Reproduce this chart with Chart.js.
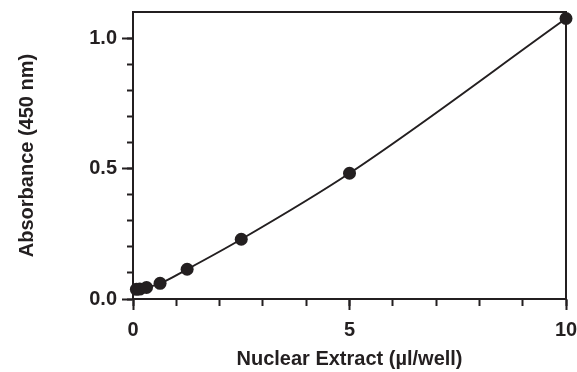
<!DOCTYPE html>
<html>
<head>
<meta charset="utf-8">
<script src="https://cdn.jsdelivr.net/npm/chart.js@4.4.1/dist/chart.umd.min.js"></script>
<style>
  html, body { margin: 0; padding: 0; background: #ffffff; }
  #wrap { width: 577px; height: 372px; position: relative; }
</style>
</head>
<body>
<div id="wrap"><canvas id="c" width="577" height="372"></canvas></div>
<script>
// ---- Data ----
const extractVolumes = [0.078, 0.156, 0.3125, 0.625, 1.25, 2.5, 5, 10];   // µl/well
const absorbance     = [0.037, 0.038, 0.044, 0.060, 0.114, 0.229, 0.482, 1.075];

const xMajorTicks = [0, 5, 10];
const xMinorTicks = [0, 1, 2, 3, 4, 5, 6, 7, 8, 9, 10];
const yMajorTicks = [0, 0.5, 1.0];
const yMinorTicks = [0, 0.1, 0.2, 0.3, 0.4, 0.5, 0.6, 0.7, 0.8, 0.9, 1.0];
const xTickLabels = ['0', '5', '10'];
const yTickLabels = ['0.0', '0.5', '1.0'];

const xTitle = 'Nuclear Extract (µl/well)';
const yTitle = 'Absorbance (450 nm)';

const INK = '#231f20';
const FONT = "'Liberation Sans', Arial, Helvetica, sans-serif";

const X_MIN = 0, X_MAX = 10, Y_MIN = 0, Y_MAX = 1.1;

function setTicks(list) {
  return function (scale) { scale.ticks = list.map(v => ({ value: v })); };
}
function fixSize(prop, size) {
  return function (s) {
    s[prop] = size;
    s.paddingLeft = 0; s.paddingRight = 0; s.paddingTop = 0; s.paddingBottom = 0;
  };
}

const chart = new Chart(document.getElementById('c'), {
  type: 'scatter',
  data: {
    datasets: [{
      data: extractVolumes.map((x, i) => ({ x: x, y: absorbance[i] })),
      showLine: true,
      borderColor: INK,
      borderWidth: 2,
      cubicInterpolationMode: 'monotone',
      pointRadius: 6.5,
      pointHoverRadius: 6.5,
      pointBackgroundColor: INK,
      pointBorderColor: INK,
      pointBorderWidth: 0,
      clip: false
    }]
  },
  options: {
    responsive: false,
    animation: false,
    devicePixelRatio: 1,
    layout: { padding: { left: 0, right: 11, top: 12, bottom: 0 } },
    plugins: { legend: { display: false }, tooltip: { enabled: false } },
    scales: {
      xMinor: {
        type: 'linear', position: 'bottom', axis: 'x', weight: 0,
        min: X_MIN, max: X_MAX,
        afterBuildTicks: setTicks(xMinorTicks),
        afterFit: fixSize('height', 0),
        ticks: { display: false },
        grid: { display: true, drawOnChartArea: false, drawTicks: true, tickLength: 7, tickWidth: 2, tickColor: INK },
        border: { display: false }
      },
      x: {
        type: 'linear', position: 'bottom', weight: 1,
        min: X_MIN, max: X_MAX,
        afterBuildTicks: setTicks(xMajorTicks),
        afterFit: fixSize('height', 73),
        ticks: {
          padding: 8, color: INK, maxRotation: 0,
          font: { family: FONT, size: 20, weight: 'bold' },
          callback: v => xTickLabels[xMajorTicks.indexOf(v)]
        },
        grid: { display: true, drawOnChartArea: false, drawTicks: true, tickLength: 11, tickWidth: 2, tickColor: INK },
        border: { display: true, color: INK, width: 2 },
        title: {
          display: true, text: xTitle, color: INK,
          font: { family: FONT, size: 20, weight: 'bold' },
          padding: { top: 0, bottom: 1 }
        }
      },
      yMinor: {
        type: 'linear', position: 'left', axis: 'y', weight: 0,
        min: Y_MIN, max: Y_MAX,
        afterBuildTicks: setTicks(yMinorTicks),
        afterFit: fixSize('width', 0),
        ticks: { display: false },
        grid: { display: true, drawOnChartArea: false, drawTicks: true, tickLength: 6, tickWidth: 2, tickColor: INK },
        border: { display: false }
      },
      y: {
        type: 'linear', position: 'left', weight: 1,
        min: Y_MIN, max: Y_MAX,
        afterBuildTicks: setTicks(yMajorTicks),
        afterFit: fixSize('width', 133),
        ticks: {
          padding: 5, color: INK,
          font: { family: FONT, size: 20, weight: 'bold' },
          callback: v => yTickLabels[yMajorTicks.indexOf(v)]
        },
        grid: { display: true, drawOnChartArea: false, drawTicks: true, tickLength: 11, tickWidth: 2, tickColor: INK },
        border: { display: true, color: INK, width: 2 },
        title: {
          display: true, text: yTitle, color: INK,
          font: { family: FONT, size: 20, weight: 'bold' },
          padding: { top: 15, bottom: 0 }
        }
      },
      xTop: {
        type: 'linear', position: 'top', axis: 'x',
        min: X_MIN, max: X_MAX,
        afterFit: fixSize('height', 0),
        ticks: { display: false },
        grid: { display: false },
        border: { display: true, color: INK, width: 2 }
      },
      yRight: {
        type: 'linear', position: 'right', axis: 'y',
        min: Y_MIN, max: Y_MAX,
        afterFit: fixSize('width', 0),
        ticks: { display: false },
        grid: { display: false },
        border: { display: true, color: INK, width: 2 }
      }
    }
  }
});
</script>
</body>
</html>
